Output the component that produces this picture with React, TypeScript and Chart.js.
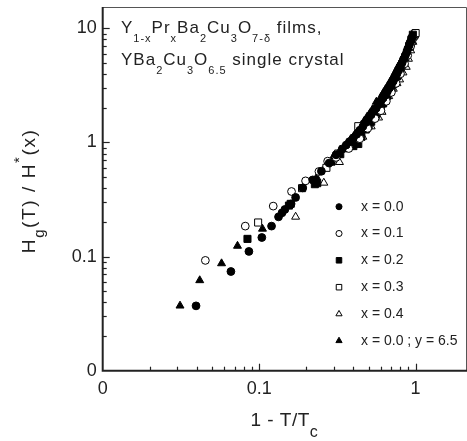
import React, { useEffect, useRef } from 'react';
import Chart from 'chart.js/auto';
import { drawPoint } from 'chart.js/helpers';

// ---------- data ----------
const xTickValues = [0.01, 0.1, 1];
const yTickValues = [0.01, 0.1, 1, 10];
const xMin = 0.01, xMax = 1.95;
const yMin = 0.01, yMax = 15.4;

const seriesLabels = ['x = 0.0', 'x = 0.1', 'x = 0.2', 'x = 0.3', 'x = 0.4', 'x = 0.0 ; y = 6.5'];

// x = 0.0 (filled circles)
const s0x = [0.0395, 0.066, 0.086, 0.104, 0.120, 0.133, 0.140, 0.146, 0.160, 0.171, 0.19, 0.22, 0.25, 0.28, 0.31, 0.34, 0.36, 0.38, 0.40, 0.42, 0.44, 0.46, 0.48, 0.50, 0.52, 0.54, 0.56, 0.58, 0.60, 0.62, 0.64, 0.66, 0.68, 0.70, 0.72, 0.74, 0.76, 0.78, 0.80, 0.82, 0.84, 0.86, 0.88, 0.89, 0.91, 0.92, 0.94, 0.95];
const s0y = [0.037, 0.074, 0.111, 0.147, 0.185, 0.223, 0.242, 0.259, 0.29, 0.33, 0.40, 0.47, 0.56, 0.66, 0.78, 0.88, 0.95, 1.02, 1.1, 1.18, 1.28, 1.38, 1.5, 1.62, 1.75, 1.88, 2.0, 2.15, 2.3, 2.45, 2.6, 2.8, 3.0, 3.2, 3.45, 3.7, 4.0, 4.3, 4.65, 5.0, 5.4, 5.8, 6.2, 6.6, 7.1, 7.5, 8.0, 8.4];
// x = 0.1 (open circles)
const s1x = [0.0453, 0.0815, 0.123, 0.161, 0.198, 0.241, 0.274, 0.31, 0.374, 0.44, 0.494, 0.55, 0.60, 0.65, 0.70, 0.75, 0.80, 0.85, 0.89, 0.93, 0.96];
const s1y = [0.0926, 0.185, 0.277, 0.372, 0.461, 0.557, 0.686, 0.74, 0.886, 1.08, 1.33, 1.62, 1.9, 2.3, 2.75, 3.3, 4.0, 4.9, 5.8, 7.0, 8.2];
// x = 0.2 (filled squares)
const s2x = [0.0842, 0.155, 0.159, 0.227, 0.235, 0.29, 0.33, 0.37, 0.40, 0.43, 0.45, 0.48, 0.50, 0.52, 0.54, 0.56, 0.58, 0.60, 0.62, 0.64, 0.66, 0.68, 0.70, 0.72, 0.74, 0.76, 0.78, 0.80, 0.82, 0.84, 0.86, 0.88, 0.91, 0.94, 0.96];
const s2y = [0.143, 0.28, 0.29, 0.431, 0.44, 0.68, 0.79, 0.90, 0.93, 0.97, 1.12, 1.3, 1.4, 1.52, 1.65, 1.8, 1.9, 2.05, 2.2, 2.4, 2.6, 2.8, 3.0, 3.25, 3.5, 3.8, 4.1, 4.4, 4.8, 5.2, 5.6, 6.1, 7.0, 8.0, 8.8];
// x = 0.3 (open squares)
const s3x = [0.0985, 0.188, 0.269, 0.32, 0.38, 0.43, 0.50, 0.56, 0.61, 0.657, 0.70, 0.74, 0.79, 0.84, 0.88, 0.92, 0.95, 0.97, 0.99, 1.0];
const s3y = [0.199, 0.398, 0.60, 0.80, 1.0, 1.39, 1.45, 1.75, 2.2, 2.56, 3.0, 3.4, 4.1, 5.0, 5.9, 6.9, 7.8, 8.5, 8.9, 9.1];
// x = 0.4 (open triangles)
const s4x = [0.171, 0.259, 0.326, 0.348, 0.40, 0.46, 0.52, 0.58, 0.61, 0.673, 0.72, 0.76, 0.79, 0.83, 0.871, 0.90, 0.93, 0.96, 0.98];
const s4y = [0.223, 0.443, 0.672, 0.868, 0.95, 1.12, 1.38, 1.65, 1.85, 2.54, 2.95, 3.3, 3.56, 4.1, 4.59, 5.4, 6.4, 7.6, 8.6];
// x = 0.0 ; y = 6.5 single crystal (filled triangles)
const s5x = [0.0312, 0.0417, 0.0575, 0.0727, 0.105, 0.233, 0.27, 0.30, 0.33, 0.36, 0.38, 0.40, 0.43, 0.45, 0.47, 0.49, 0.51, 0.53, 0.561, 0.60, 0.62, 0.64, 0.66, 0.68, 0.70, 0.72, 0.74, 0.76, 0.78, 0.80, 0.82, 0.84, 0.86, 0.88, 0.90, 0.92, 0.95];
const s5y = [0.0371, 0.0619, 0.0871, 0.124, 0.175, 0.494, 0.64, 0.76, 0.86, 0.96, 1.04, 1.12, 1.32, 1.42, 1.55, 1.68, 1.8, 1.95, 2.27, 2.5, 2.7, 2.9, 3.1, 3.3, 3.55, 3.8, 4.1, 4.4, 4.7, 5.0, 5.3, 5.7, 6.1, 6.6, 7.1, 7.7, 8.7];

const seriesX = [s0x, s1x, s2x, s3x, s4x, s5x];
const seriesY = [s0y, s1y, s2y, s3y, s4y, s5y];

// ---------- styles ----------
const FONT = "'Liberation Sans', Arial, Helvetica, sans-serif";
const styles = [
  { pointStyle: 'circle', radius: 3.9, fill: '#000' },
  { pointStyle: 'circle', radius: 3.9, fill: '#fff' },
  { pointStyle: 'rect', radius: 5, fill: '#000' },
  { pointStyle: 'rect', radius: 5, fill: '#fff' },
  { pointStyle: 'triangle', radius: 4.6, fill: '#fff' },
  { pointStyle: 'triangle', radius: 4.6, fill: '#000' },
];

type Run = { t: string; d: number; size: number };

function runsWidth(ctx: CanvasRenderingContext2D, runs: Run[], spacing: number) {
  let w = 0;
  (ctx as any).letterSpacing = spacing + 'px';
  for (const r of runs) {
    ctx.font = `${r.size}px ${FONT}`;
    w += ctx.measureText(r.t).width;
  }
  return w;
}

function drawRuns(ctx: CanvasRenderingContext2D, runs: Run[], x: number, y: number, spacing: number) {
  let cx = x;
  (ctx as any).letterSpacing = spacing + 'px';
  ctx.textAlign = 'left';
  ctx.textBaseline = 'alphabetic';
  for (const r of runs) {
    ctx.font = `${r.size}px ${FONT}`;
    ctx.fillText(r.t, cx, y + r.d);
    cx += ctx.measureText(r.t).width;
  }
}

const decorPlugin = {
  id: 'decor',
  afterDraw(chart: any) {
    const ctx: CanvasRenderingContext2D = chart.ctx;
    const { left, top, bottom } = chart.chartArea;
    const frameRight = chart.width - 1;
    const xs = chart.scales.x;
    const ys = chart.scales.y;
    ctx.save();

    // frame
    ctx.strokeStyle = '#555';
    ctx.lineWidth = 1;
    ctx.beginPath();
    ctx.moveTo(left, top + 0.5);
    ctx.lineTo(frameRight + 0.5, top + 0.5);
    ctx.lineTo(frameRight + 0.5, bottom);
    ctx.stroke();
    ctx.strokeStyle = '#222';
    ctx.lineWidth = 2;
    ctx.beginPath();
    ctx.moveTo(left, top);
    ctx.lineTo(left, bottom);
    ctx.lineTo(frameRight + 1, bottom);
    ctx.stroke();

    // inward ticks
    ctx.lineWidth = 1.2;
    for (let e = -2; e <= 0; e++) {
      for (let m = 1; m <= 9; m++) {
        const v = m * Math.pow(10, e);
        if (v <= xMin || v >= xMax) continue;
        const px = Math.round(xs.getPixelForValue(v)) + 0.5;
        const len = m === 1 ? 7 : 4;
        ctx.beginPath();
        ctx.moveTo(px, bottom);
        ctx.lineTo(px, bottom - len);
        ctx.stroke();
      }
    }
    for (let e = -2; e <= 1; e++) {
      for (let m = 1; m <= 9; m++) {
        const v = m * Math.pow(10, e);
        if (v <= yMin || v > 10) continue;
        const py = Math.round(ys.getPixelForValue(v)) + 0.5;
        const len = m === 1 ? 7 : 4;
        ctx.beginPath();
        ctx.moveTo(left, py);
        ctx.lineTo(left + len, py);
        ctx.stroke();
      }
    }

    ctx.fillStyle = '#222';

    // x title: 1 - T/Tc
    const xt: Run[] = [
      { t: '1 - T/T', d: 0, size: 19 },
      { t: 'c', d: 11, size: 16 },
    ];
    const xw = runsWidth(ctx, xt, 0.5);
    drawRuns(ctx, xt, (left + frameRight) / 2 - xw / 2, 426, 0.5);

    // y title: Hg(T) / H*(x)
    const yt: Run[] = [
      { t: 'H', d: 0, size: 19 },
      { t: 'g', d: 8.5, size: 15 },
      { t: '(T) / H', d: 0, size: 19 },
      { t: '*', d: -11.5, size: 15 },
      { t: '(x)', d: 0, size: 19 },
    ];
    ctx.save();
    ctx.translate(35, (top + bottom) / 2 + 2);
    ctx.rotate(-Math.PI / 2);
    const yw = runsWidth(ctx, yt, 1.6);
    drawRuns(ctx, yt, -yw / 2, 0, 1.6);
    ctx.restore();

    // annotation
    const l1: Run[] = [
      { t: 'Y', d: 0, size: 17 },
      { t: '1-x', d: 8.5, size: 11 },
      { t: 'Pr', d: 0, size: 17 },
      { t: 'x', d: 8.5, size: 11 },
      { t: 'Ba', d: 0, size: 17 },
      { t: '2', d: 8.5, size: 11 },
      { t: 'Cu', d: 0, size: 17 },
      { t: '3', d: 8.5, size: 11 },
      { t: 'O', d: 0, size: 17 },
      { t: '7-δ', d: 8.5, size: 11 },
      { t: ' films,', d: 0, size: 17 },
    ];
    const l2: Run[] = [
      { t: 'YBa', d: 0, size: 17 },
      { t: '2', d: 8.5, size: 11 },
      { t: 'Cu', d: 0, size: 17 },
      { t: '3', d: 8.5, size: 11 },
      { t: 'O', d: 0, size: 17 },
      { t: '6.5', d: 8.5, size: 11 },
      { t: ' single crystal', d: 0, size: 17 },
    ];
    drawRuns(ctx, l1, 121, 33, 1.0);
    drawRuns(ctx, l2, 121, 65, 1.0);

    // legend
    const rows = [206.7, 233.5, 260.3, 287.2, 314, 340.8];
    (ctx as any).letterSpacing = '0px';
    chart.data.datasets.forEach((ds: any, i: number) => {
      const y = rows[i];
      ctx.fillStyle = ds.pointBackgroundColor;
      ctx.strokeStyle = '#000';
      ctx.lineWidth = 1;
      drawPoint(ctx, { pointStyle: ds.pointStyle, radius: ds.pointRadius * 0.78, rotation: 0, borderWidth: 1 } as any, 339, y);
      ctx.fillStyle = '#222';
      ctx.font = `14px ${FONT}`;
      ctx.textAlign = 'left';
      ctx.textBaseline = 'middle';
      ctx.fillText(ds.label, 361, y);
    });

    ctx.restore();
  },
};

export default function App() {
  const ref = useRef<HTMLCanvasElement | null>(null);
  useEffect(() => {
    if (!ref.current) return;
    const datasets = seriesX.map((xsArr, i) => ({
      label: seriesLabels[i],
      data: xsArr.map((x, j) => ({ x, y: seriesY[i][j] })),
      pointStyle: styles[i].pointStyle,
      pointRadius: styles[i].radius,
      pointBackgroundColor: styles[i].fill,
      pointBorderColor: '#000',
      pointBorderWidth: 1,
      showLine: false,
    }));
    const tickFont = { family: FONT, size: 18 };
    const chart = new Chart(ref.current, {
      type: 'scatter',
      data: { datasets } as any,
      options: {
        animation: false,
        responsive: false,
        devicePixelRatio: 1,
        layout: { padding: { top: 7, right: 1, left: 0, bottom: 0 } },
        plugins: { legend: { display: false }, tooltip: { enabled: false } },
        scales: {
          x: {
            type: 'logarithmic',
            position: 'bottom',
            min: xMin,
            max: xMax,
            grid: { display: false, drawTicks: false },
            border: { display: false },
            ticks: {
              font: tickFont,
              color: '#222',
              padding: 8,
              autoSkip: false,
              maxRotation: 0,
              callback: (v: any) => (Math.abs(v - 0.01) < 1e-9 ? '0' : String(v)),
            },
            afterBuildTicks: (s: any) => {
              s.ticks = xTickValues.map((v) => ({ value: v }));
            },
            afterFit: (s: any) => {
              s.height = 70.3;
              s.paddingLeft = 0;
              s.paddingRight = 0;
            },
          },
          y: {
            type: 'logarithmic',
            position: 'left',
            min: yMin,
            max: yMax,
            grid: { display: false, drawTicks: false },
            border: { display: false },
            ticks: {
              font: tickFont,
              color: '#222',
              padding: 6,
              autoSkip: false,
              callback: (v: any) => (Math.abs(v - 0.01) < 1e-9 ? '0' : String(v)),
            },
            afterBuildTicks: (s: any) => {
              s.ticks = yTickValues.map((v) => ({ value: v }));
            },
            afterFit: (s: any) => {
              s.width = 102.7;
              s.paddingTop = 0;
              s.paddingBottom = 0;
            },
          },
        },
      } as any,
      plugins: [decorPlugin],
    });
    return () => chart.destroy();
  }, []);
  return (
    <div style={{ position: 'fixed', left: 0, top: 0, width: 467, height: 441, background: '#fff' }}>
      <canvas ref={ref} width={467} height={441} style={{ display: 'block', width: 467, height: 441 }} />
    </div>
  );
}
